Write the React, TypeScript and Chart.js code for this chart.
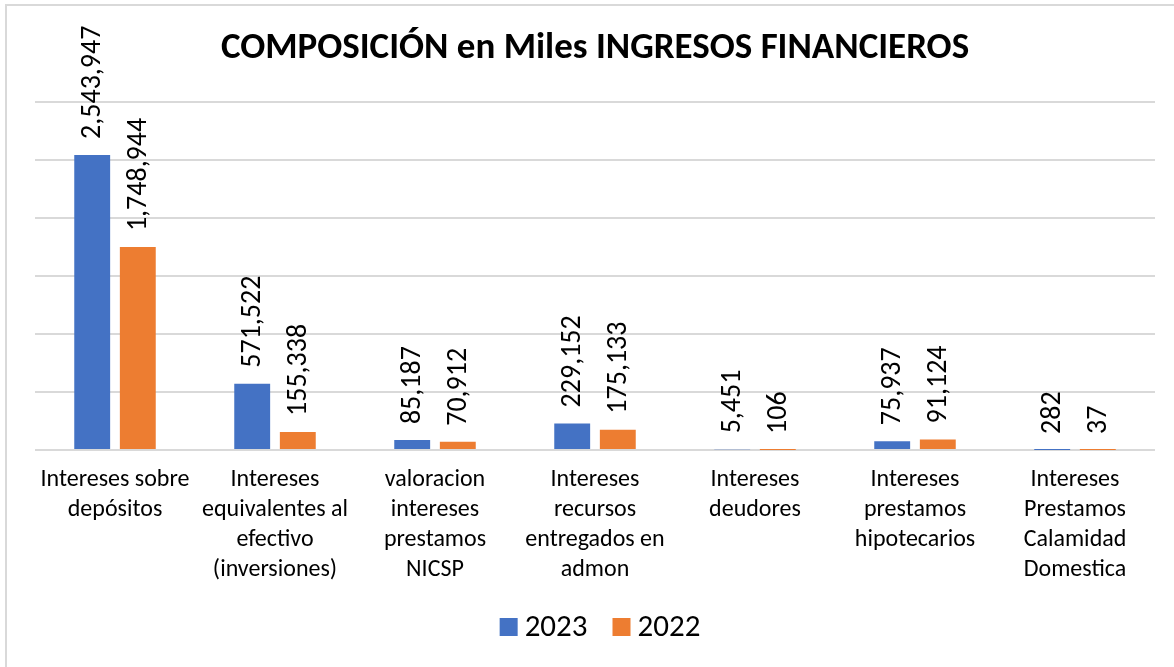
import React, { useEffect, useRef } from "react";
import { Chart, registerables } from "chart.js";

Chart.register(...registerables);

const categories: string[][] = [
  ["Intereses sobre", "depósitos"],
  ["Intereses", "equivalentes al", "efectivo", "(inversiones)"],
  ["valoracion", "intereses", "prestamos", "NICSP"],
  ["Intereses", "recursos", "entregados en", "admon"],
  ["Intereses", "deudores"],
  ["Intereses", "prestamos", "hipotecarios"],
  ["Intereses", "Prestamos", "Calamidad", "Domestica"],
];

const seriesNames = ["2023", "2022"];
const values2023 = [2543947, 571522, 85187, 229152, 5451, 75937, 282];
const values2022 = [1748944, 155338, 70912, 175133, 106, 91124, 37];
const seriesColors = ["#4472C4", "#ED7D31"];

const titleText = "COMPOSICIÓN en Miles INGRESOS FINANCIEROS";
const FONT = "Carlito, Lato, 'Open Sans', sans-serif";

const dataLabelPlugin = {
  id: "dataLabels",
  afterDatasetsDraw(chart: any) {
    const ctx = chart.ctx;
    ctx.save();
    ctx.fillStyle = "#000000";
    ctx.font = `28px ${FONT}`;
    ctx.textAlign = "left";
    ctx.textBaseline = "middle";
    chart.data.datasets.forEach((ds: any, i: number) => {
      const meta = chart.getDatasetMeta(i);
      meta.data.forEach((bar: any, j: number) => {
        const v = ds.data[j];
        const txt = Number(v).toLocaleString("en-US");
        ctx.save();
        ctx.translate(bar.x + 1, bar.y - 16);
        ctx.rotate(-Math.PI / 2);
        ctx.fillText(txt, 0, 0);
        ctx.restore();
      });
    });
    ctx.restore();
  },
};

const customLegendPlugin = {
  id: "customLegend",
  afterDraw(chart: any) {
    const ctx = chart.ctx;
    ctx.save();
    ctx.font = `31px ${FONT}`;
    ctx.textBaseline = "middle";
    ctx.textAlign = "left";
    const box = 18;
    const gap = 7;
    const itemGap = 25;
    const widths = chart.data.datasets.map(
      (ds: any) => box + gap + ctx.measureText(ds.label).width
    );
    const total = widths.reduce((a: number, b: number) => a + b, 0) + itemGap * (widths.length - 1);
    let x = 600 - total / 2;
    const cy = 627;
    chart.data.datasets.forEach((ds: any, i: number) => {
      ctx.fillStyle = ds.backgroundColor;
      ctx.fillRect(x, cy - box / 2, box, box);
      ctx.fillStyle = "#000000";
      ctx.fillText(ds.label, x + box + gap, cy + 1);
      x += widths[i] + itemGap;
    });
    ctx.restore();
  },
};

export default function App() {
  const ref = useRef<HTMLCanvasElement>(null);
  useEffect(() => {
    if (!ref.current) return;
    const chart = new Chart(ref.current, {
      type: "bar",
      data: {
        labels: categories,
        datasets: [
          {
            label: seriesNames[0],
            data: values2023,
            backgroundColor: seriesColors[0],
            categoryPercentage: 0.57,
            barPercentage: 0.787,
          },
          {
            label: seriesNames[1],
            data: values2022,
            backgroundColor: seriesColors[1],
            categoryPercentage: 0.57,
            barPercentage: 0.787,
          },
        ],
      },
      options: {
        responsive: false,
        animation: false,
        devicePixelRatio: 1,
        layout: { padding: { left: 35, right: 19, top: 0, bottom: 67 } },
        plugins: {
          legend: { display: false },
          tooltip: { enabled: false },
          title: {
            display: true,
            text: titleText,
            color: "#000000",
            font: { family: FONT, size: 37, weight: "bold", lineHeight: 1.2 },
            padding: { top: 27, bottom: 30.6 },
          },
        },
        scales: {
          x: {
            grid: { display: false, drawTicks: false },
            border: { display: false },
            ticks: {
              color: "#000000",
              font: { family: FONT, size: 24, lineHeight: 1.25 },
              padding: 15,
              maxRotation: 0,
              minRotation: 0,
              autoSkip: false,
            },
          },
          y: {
            min: 0,
            max: 3000000,
            grid: { color: "#d9d9d9", lineWidth: 2, drawTicks: false },
            border: { display: false },
            ticks: { display: false, stepSize: 500000 },
          },
        },
      },
      plugins: [dataLabelPlugin, customLegendPlugin],
    });
    return () => chart.destroy();
  }, []);

  return (
    <div
      style={{
        position: "fixed",
        left: 0,
        top: 0,
        width: 1174,
        height: 667,
        overflow: "hidden",
        background: "#ffffff",
      }}
    >
      <canvas ref={ref} width={1174} height={667} style={{ display: "block" }} />
      <div
        style={{
          position: "absolute",
          left: 5,
          top: 4,
          width: 1200,
          height: 700,
          border: "1px solid #d9d9d9",
          borderWidth: "2px 0 0 2px",
          pointerEvents: "none",
        }}
      />
    </div>
  );
}
